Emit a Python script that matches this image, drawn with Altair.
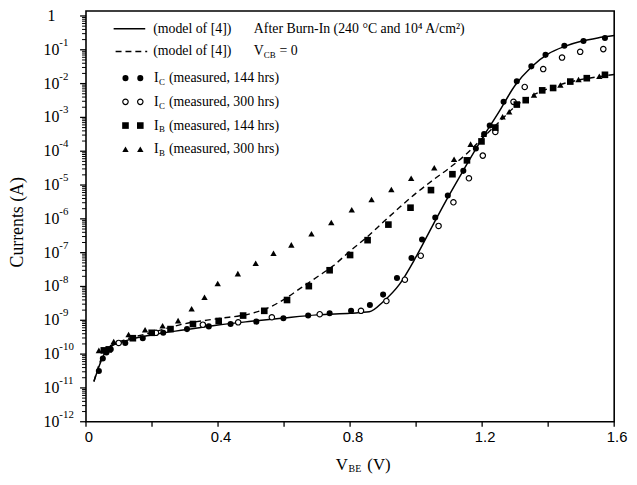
import altair as alt
import pandas as pd

# ---------------- data ----------------
# V_BE (V) and log10 of the current (A)
ic144_v = [0.039, 0.051, 0.062, 0.075, 0.119, 0.172, 0.234, 0.306, 0.372, 0.438, 0.516,
           0.598, 0.673, 0.738, 0.803, 0.860, 0.900, 0.942, 0.986, 1.018, 1.058, 1.096,
           1.143, 1.181, 1.206, 1.223, 1.265, 1.305, 1.349, 1.392, 1.449, 1.507, 1.572]
ic144_log = [-10.50, -10.13, -9.95, -9.86, -9.67, -9.53, -9.37, -9.26, -9.18, -9.11, -9.04,
             -8.94, -8.86, -8.79, -8.72, -8.55, -8.24, -7.75, -7.16, -6.61, -5.96, -5.31,
             -4.58, -3.92, -3.49, -3.24, -2.54, -1.93, -1.49, -1.15, -0.88, -0.74, -0.65]

ic300_v = [0.099, 0.212, 0.354, 0.461, 0.563, 0.708, 0.833, 0.910, 0.966, 1.014, 1.068,
           1.113, 1.160, 1.202, 1.240, 1.295, 1.329, 1.385, 1.442, 1.497, 1.567]
ic300_log = [-9.67, -9.37, -9.13, -9.06, -8.91, -8.82, -8.72, -8.43, -7.80, -7.09, -6.21,
             -5.51, -4.80, -4.13, -3.43, -2.54, -2.10, -1.57, -1.23, -1.06, -0.98]

ib144_v = [0.054, 0.069, 0.142, 0.199, 0.256, 0.324, 0.402, 0.476, 0.540, 0.609, 0.675,
           0.738, 0.800, 0.853, 0.916, 0.983, 1.045, 1.110, 1.154, 1.198, 1.240, 1.305,
           1.332, 1.382, 1.415, 1.467, 1.517, 1.572]
ib144_log = [-9.89, -9.86, -9.53, -9.37, -9.26, -9.11, -9.02, -8.86, -8.72, -8.40, -7.99,
             -7.52, -7.07, -6.63, -6.17, -5.67, -5.15, -4.68, -4.27, -3.71, -3.30, -2.62,
             -2.49, -2.20, -2.13, -1.94, -1.84, -1.74]

ib300_v = [0.039, 0.084, 0.129, 0.179, 0.232, 0.279, 0.320, 0.359, 0.399, 0.460, 0.514,
           0.568, 0.622, 0.683, 0.743, 0.805, 0.865, 0.925, 0.985, 1.055, 1.115, 1.165,
           1.205, 1.262, 1.282, 1.357, 1.437, 1.492, 1.555]
ib300_log = [-9.89, -9.63, -9.42, -9.28, -9.16, -9.01, -8.66, -8.32, -7.91, -7.62, -7.31,
             -7.02, -6.77, -6.44, -6.11, -5.73, -5.43, -5.13, -4.80, -4.49, -4.24, -3.79,
             -3.50, -2.98, -2.83, -2.34, -2.04, -1.88, -1.78]

# model curves (of [4])
mic_v = [0.024, 0.04, 0.055, 0.075, 0.11, 0.2, 0.3, 0.4, 0.5, 0.6, 0.7, 0.8, 0.858, 0.9,
         0.95, 1.0, 1.05, 1.1, 1.15, 1.2, 1.25, 1.3, 1.35, 1.4, 1.45, 1.5, 1.55, 1.6]
mic_log = [-10.81, -10.35, -10.0, -9.78, -9.64, -9.43, -9.28, -9.14, -9.03, -8.93, -8.84,
           -8.79, -8.75, -8.45, -7.93, -7.12, -6.2, -5.3, -4.45, -3.62, -2.85, -2.05,
           -1.5, -1.12, -0.9, -0.75, -0.65, -0.58]

mib_v = [0.024, 0.04, 0.055, 0.075, 0.11, 0.2, 0.3, 0.4, 0.5, 0.55, 0.6, 0.65, 0.7, 0.75,
         0.8, 0.85, 0.9, 0.95, 1.0, 1.05, 1.1, 1.15, 1.2, 1.25, 1.3, 1.35, 1.4, 1.45, 1.5,
         1.55, 1.6]
mib_log = [-10.81, -10.3, -9.95, -9.75, -9.6, -9.36, -9.1, -8.95, -8.8, -8.64, -8.38,
           -8.05, -7.72, -7.38, -6.95, -6.55, -6.1, -5.66, -5.24, -4.86, -4.5, -4.1,
           -3.62, -3.15, -2.68, -2.36, -2.15, -1.99, -1.88, -1.8, -1.73]

# axis ticks / labels
x_ticks = [0, 0.2, 0.4, 0.6, 0.8, 1.0, 1.2, 1.4, 1.6]
x_label_vals = [0, 0.4, 0.8, 1.2, 1.6]
x_label_text = ["0", "0.4", "0.8", "1.2", "1.6"]
y_exponents = [-1, -2, -3, -4, -5, -6, -7, -8, -9, -10, -11, -12]

SERIF = "Liberation Serif"
SANS = "Liberation Sans"
W, H = 535, 416


def frame(v, lg):
    return pd.DataFrame({"V": v, "I": [10 ** x for x in lg]})


xs = alt.Scale(domain=[0, 1.6], nice=False, zero=False)
ys = alt.Scale(type="log", domain=[1e-12, 1.4], nice=False)
X = alt.X("V:Q", scale=xs, axis=None)
Y = alt.Y("I:Q", scale=ys, axis=None)

one = pd.DataFrame({"k": [0]})


def label(s, x, y, size=14, font=SERIF, align="left", angle=0):
    return alt.Chart(one).mark_text(
        align=align, baseline="middle", font=font, fontSize=size, color="black", angle=angle
    ).encode(x=alt.value(x), y=alt.value(y), text=alt.value(s))


def sym(x, y, kind):
    if kind == "filled":
        m = alt.Chart(one).mark_point(shape="circle", filled=True, size=38, color="black", opacity=1)
    elif kind == "open":
        m = alt.Chart(one).mark_point(shape="circle", filled=False, size=30, color="black",
                                      strokeWidth=1.2, opacity=1)
    elif kind == "square":
        m = alt.Chart(one).mark_point(shape="square", filled=True, size=45, color="black", opacity=1)
    else:
        m = alt.Chart(one).mark_point(shape="triangle-up", filled=True, size=42, color="black", opacity=1)
    return m.encode(x=alt.value(x), y=alt.value(y))


layers = []

# model lines
layers.append(alt.Chart(frame(mic_v, mic_log)).mark_line(
    color="black", strokeWidth=1.5, interpolate="monotone").encode(x=X, y=Y, order="V:Q"))
layers.append(alt.Chart(frame(mib_v, mib_log)).mark_line(
    color="black", strokeWidth=1.4, strokeDash=[6, 4], interpolate="monotone").encode(x=X, y=Y, order="V:Q"))

# measured points
layers.append(alt.Chart(frame(ic144_v, ic144_log)).mark_point(
    shape="circle", filled=True, size=38, color="black", opacity=1).encode(x=X, y=Y))
layers.append(alt.Chart(frame(ic300_v, ic300_log)).mark_point(
    shape="circle", filled=True, size=30, color="white", stroke="black", strokeWidth=1.2,
    opacity=1).encode(x=X, y=Y))
layers.append(alt.Chart(frame(ib144_v, ib144_log)).mark_point(
    shape="square", filled=True, size=45, color="black", opacity=1).encode(x=X, y=Y))
layers.append(alt.Chart(frame(ib300_v, ib300_log)).mark_point(
    shape="triangle-up", filled=True, size=42, color="black", opacity=1).encode(x=X, y=Y))

# y ticks (outward, left)
minor_vals = []
for e in range(-12, 0):
    for m in range(2, 10):
        minor_vals.append(m * 10.0 ** e)
major_vals = [10.0 ** e for e in range(-12, 1)]
layers.append(alt.Chart(pd.DataFrame({"I": minor_vals})).mark_rule(color="black", strokeWidth=1).encode(
    y=Y, x=alt.value(-4), x2=alt.value(0)))
layers.append(alt.Chart(pd.DataFrame({"I": major_vals})).mark_rule(color="black", strokeWidth=1.3).encode(
    y=Y, x=alt.value(-6), x2=alt.value(0)))

# x ticks (outward, bottom)
layers.append(alt.Chart(pd.DataFrame({"V": x_ticks})).mark_rule(color="black", strokeWidth=1.3).encode(
    x=X, y=alt.value(H), y2=alt.value(H + 5)))

# x tick labels
layers.append(alt.Chart(pd.DataFrame({"V": x_label_vals, "t": x_label_text})).mark_text(
    font=SANS, fontSize=15, color="black", align="center", baseline="middle", dx=3).encode(
    x=X, y=alt.value(H + 16), text="t:N"))

# y tick labels: 10 with superscript exponent
ylab = pd.DataFrame({"I": [10.0 ** e for e in y_exponents], "e": [str(e) for e in y_exponents]})
layers.append(alt.Chart(ylab).mark_text(
    font=SERIF, fontSize=16, color="black", align="left", baseline="middle").encode(
    y=Y, x=alt.value(-43), text=alt.value("10")))
layers.append(alt.Chart(ylab).mark_text(
    font=SERIF, fontSize=11, color="black", align="left", baseline="middle", dy=-7).encode(
    y=Y, x=alt.value(-27), text="e:N"))
layers.append(alt.Chart(pd.DataFrame({"I": [1.0]})).mark_text(
    font=SERIF, fontSize=16, color="black", align="center", baseline="middle").encode(
    y=Y, x=alt.value(-35), text=alt.value("1")))

# axis titles
layers.append(label("Currents (A)", -69, 214, size=18, align="center", angle=270))
layers.append(label("V", 253, 460, size=17))
layers.append(label("BE", 266, 464, size=10))
layers.append(label("(V)", 285, 460, size=17))

# legend / annotations
layers.append(alt.Chart(one).mark_rule(color="black", strokeWidth=1.5).encode(
    x=alt.value(28), x2=alt.value(60), y=alt.value(18)))
layers.append(alt.Chart(one).mark_rule(color="black", strokeWidth=1.4, strokeDash=[6, 4]).encode(
    x=alt.value(30), x2=alt.value(62), y=alt.value(41)))
layers.append(label("(model of [4])", 68, 18))
layers.append(label("(model of [4])", 68, 41))
layers.append(label("After Burn-In (240 °C and 10⁴ A/cm²)", 170, 18))
layers.append(label("V", 170, 41))
layers.append(label("CB", 180, 45, size=9))
layers.append(label("= 0", 196, 41))

rows = [(68, "filled", "C", "(measured, 144 hrs)"),
        (92, "open", "C", "(measured, 300 hrs)"),
        (116, "square", "B", "(measured, 144 hrs)"),
        (140, "triangle", "B", "(measured, 300 hrs)")]
for ry, kind, sub, txt in rows:
    layers.append(sym(40, ry, kind))
    layers.append(sym(55, ry, kind))
    layers.append(label("I", 69, ry))
    layers.append(label(sub, 74, ry + 4, size=9))
    layers.append(label(txt, 84, ry))

chart = alt.layer(*layers).properties(
    width=W, height=H,
    padding={"left": 79, "top": 0, "right": 15, "bottom": 60},
    autosize=alt.AutoSizeParams(type="none"),
).configure_view(stroke="black", strokeWidth=1.6)

chart.save("out.html", embed_options={"renderer": "svg", "actions": False})
